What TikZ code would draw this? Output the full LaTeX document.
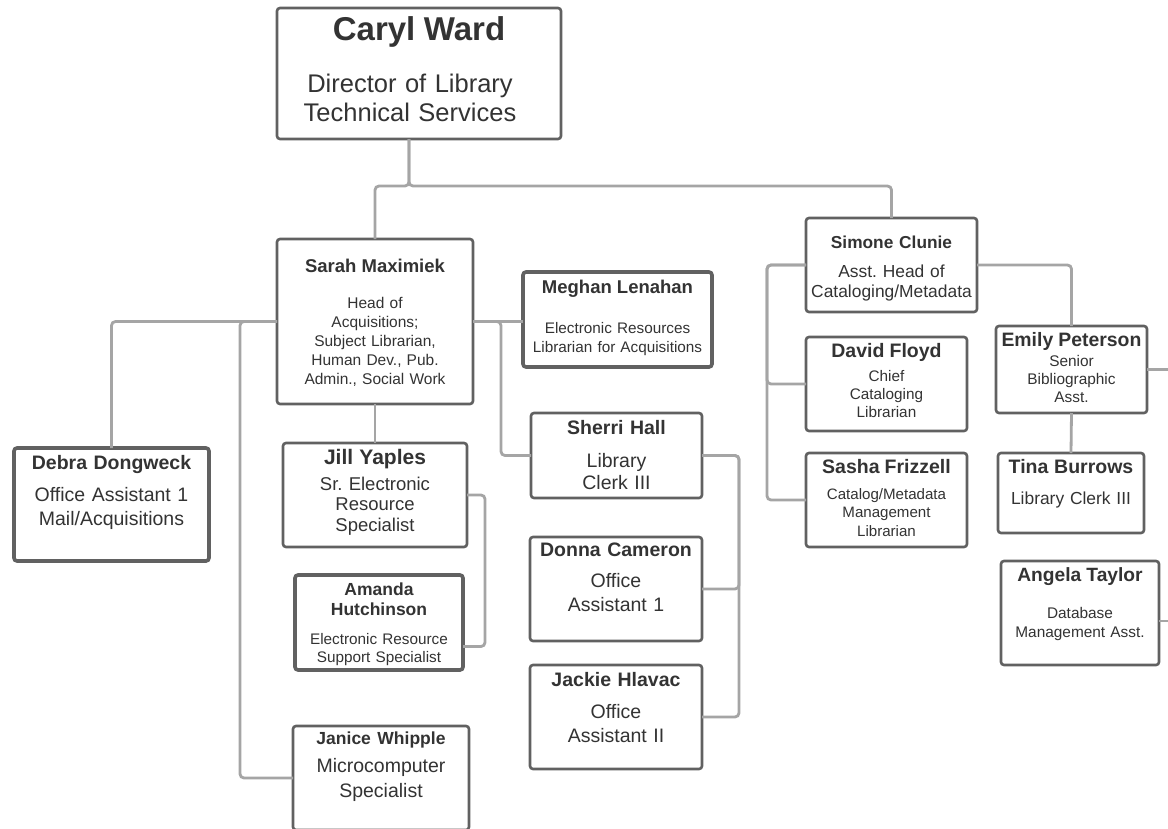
\documentclass[tikz,border=0pt]{standalone}
\usepackage{fontspec}
\setmainfont{Liberation Sans}
\usetikzlibrary{positioning,calc}
\definecolor{boxline}{HTML}{616161}
\definecolor{linkgray}{HTML}{A5A5A5}
\definecolor{ink}{HTML}{333333}
\newcommand{\pname}[2]{{\fontsize{#1}{#1}\selectfont\bfseries #2}}
\frenchspacing

\begin{document}
\begin{tikzpicture}[x=1pt,y=-1pt,
    box/.style={draw=boxline,line width=2.6pt,rounded corners=3pt,fill=white,inner sep=0pt,outer sep=0pt},
    heavy/.style={box,line width=3.6pt},
    txt/.style={anchor=north,align=center,inner sep=0pt,text=ink},
    link/.style={draw=linkgray,line width=2.8pt,rounded corners=4pt}]
  \useasboundingbox (0,0) rectangle (1168,828);
  \clip (0,0) rectangle (1168,828);
  \fill[white] (0,0) rectangle (1168,828);

  % director
  \node[box,minimum width=284pt,minimum height=131pt,
    label={[txt,text width=280pt,font=\fontsize{25.5}{29}\selectfont\frenchspacing,yshift=-8pt]north:{\pname{33}{Caryl Ward}\\[23pt]Director of Library\rule{18pt}{0pt}\\Technical Services\rule{18pt}{0pt}}}] (caryl) at (419,73.5) {};

  % acquisitions
  \node[box,minimum width=196pt,minimum height=165pt,
    label={[txt,text width=192pt,font=\fontsize{15.5}{19}\selectfont\frenchspacing,yshift=-19.5pt]north:{\pname{18.5}{Sarah Maximiek}\\[17pt]Head of\\Acquisitions;\\Subject Librarian,\\Human Dev., Pub.\\Admin., Social Work}}] (sarah) at (375,321.5) {};
  \node[heavy,minimum width=189pt,minimum height=95pt,
    label={[txt,text width=186pt,font=\fontsize{15.3}{19}\selectfont\frenchspacing,yshift=-7.5pt]north:{\pname{18.5}{Meghan Lenahan}\\[21pt]Electronic Resources\\Librarian for Acquisitions}}] (meghan) at (617.5,319.5) {};
  \node[box,minimum width=171pt,minimum height=85pt,
    label={[txt,text width=168pt,font=\fontsize{19.5}{22}\selectfont\frenchspacing,yshift=-6.8pt]north:{\pname{19.5}{Sherri Hall}\\[11pt]Library\\Clerk III}}] (sherri) at (616.5,455.5) {};
  \node[box,minimum width=172pt,minimum height=104pt,
    label={[txt,text width=168pt,font=\fontsize{19.5}{24}\selectfont\frenchspacing,yshift=-5.8pt]north:{\pname{19.5}{Donna Cameron}\\[7pt]Office\\Assistant 1}}] (donna) at (616,589) {};
  \node[box,minimum width=172pt,minimum height=104pt,
    label={[txt,text width=168pt,font=\fontsize{19.5}{24}\selectfont\frenchspacing,yshift=-6.8pt]north:{\pname{19.5}{Jackie Hlavac}\\[8pt]Office\\Assistant II}}] (jackie) at (616,717) {};
  \node[box,minimum width=184pt,minimum height=104pt,
    label={[txt,text width=180pt,font=\fontsize{18.5}{20.5}\selectfont\frenchspacing,yshift=-5.7pt]north:{\pname{21}{Jill Yaples}\\[5.5pt]Sr. Electronic\\Resource\\Specialist}}] (jill) at (375,495) {};
  \node[heavy,minimum width=168pt,minimum height=95pt,
    label={[txt,text width=164pt,font=\fontsize{15.3}{18}\selectfont\frenchspacing,yshift=-7.2pt]north:{\pname{17.5}{Amanda\\[2pt]Hutchinson}\\[11pt]Electronic Resource\\Support Specialist}}] (amanda) at (379,622.5) {};
  \node[box,minimum width=176pt,minimum height=104pt,
    label={[txt,text width=172pt,font=\fontsize{19.5}{25}\selectfont\frenchspacing,yshift=-5.2pt]north:{\pname{17.5}{Janice Whipple}\\[3pt]Microcomputer\\Specialist}}] (janice) at (381,778) {};
  \node[heavy,minimum width=195pt,minimum height=113pt,
    label={[txt,text width=190pt,font=\fontsize{19.5}{24}\selectfont\frenchspacing,yshift=-6.8pt]north:{\pname{19.5}{Debra Dongweck}\\[8pt]Office Assistant 1\\Mail/Acquisitions}}] (debra) at (111.5,504.5) {};

  % cataloging
  \node[box,minimum width=171pt,minimum height=94pt,
    label={[txt,text width=168pt,font=\fontsize{17.4}{20}\selectfont\frenchspacing,yshift=-17.4pt]north:{\pname{17.3}{Simone Clunie}\\[9pt]Asst. Head of\\Cataloging/Metadata}}] (simone) at (891.5,265) {};
  \node[box,minimum width=161pt,minimum height=94pt,
    label={[txt,text width=158pt,font=\fontsize{15.3}{18}\selectfont\frenchspacing,yshift=-5.8pt]north:{\pname{19.5}{David Floyd}\\[6pt]Chief\\Cataloging\\Librarian}}] (david) at (886.5,384) {};
  \node[box,minimum width=161pt,minimum height=94pt,
    label={[txt,text width=158pt,font=\fontsize{15.1}{18.5}\selectfont\frenchspacing,yshift=-5.8pt]north:{\pname{19.5}{Sasha Frizzell}\\[7.5pt]Catalog/Metadata\\Management\\Librarian}}] (sasha) at (886.5,500) {};
  \node[box,minimum width=151pt,minimum height=87pt,
    label={[txt,text width=150pt,font=\fontsize{15.4}{18}\selectfont\frenchspacing,yshift=-5.8pt]north:{\pname{19.4}{Emily Peterson}\\[2pt]Senior\\Bibliographic\\Asst.}}] (emily) at (1071.5,369.5) {};
  \node[box,minimum width=146pt,minimum height=80pt,
    label={[txt,text width=142pt,font=\fontsize{17.4}{20}\selectfont\frenchspacing,yshift=-5.8pt]north:{\pname{19.5}{Tina Burrows}\\[11pt]Library Clerk III}}] (tina) at (1071,493) {};
  \node[box,minimum width=158pt,minimum height=104pt,
    label={[txt,text width=154pt,font=\fontsize{15.4}{19}\selectfont\frenchspacing,yshift=-6pt]north:{\pname{19.2}{Angela Taylor}\\[18pt]Database\\Management Asst.}}] (angela) at (1080,613) {};

  \coordinate (rim) at (1175,0);

  \draw[link] ([xshift=-10pt]caryl.south) -- ++(0,47) -| (sarah.north);
  \draw[link] ([xshift=-10pt]caryl.south) -- ++(0,47) -| (simone.north);
  \draw[link] (sarah.west) -| (debra.north);
  \draw[link] (sarah.west) -- ++(-37,0) |- (janice.west);
  \draw[link] (sarah.east) -- (meghan.west |- sarah.east);
  \draw[link] (sarah.east) -- ++(28,0) |- (sherri.west);
  \draw[link] (sarah.south) -- (jill.north);
  \draw[link] (jill.east) -- ++(18,0) |- ([yshift=-24pt]amanda.east);
  \draw[link] (sherri.east) -- ++(37,0) |- (donna.east);
  \draw[link] (sherri.east) -- ++(37,0) |- (jackie.east);
  \draw[link] (simone.west) -- ++(-39,0) |- (david.west);
  \draw[link] (simone.west) -- ++(-39,0) |- (sasha.west);
  \draw[link] (simone.east) -| (emily.north);
  \draw[link] (emily.south) -- (tina.north);
  \draw[link] (emily.east) -- (emily.east -| rim);
  \draw[link] ([yshift=-8pt]angela.east) -- ([yshift=-8pt]angela.east -| rim);
\end{tikzpicture}
\end{document}
